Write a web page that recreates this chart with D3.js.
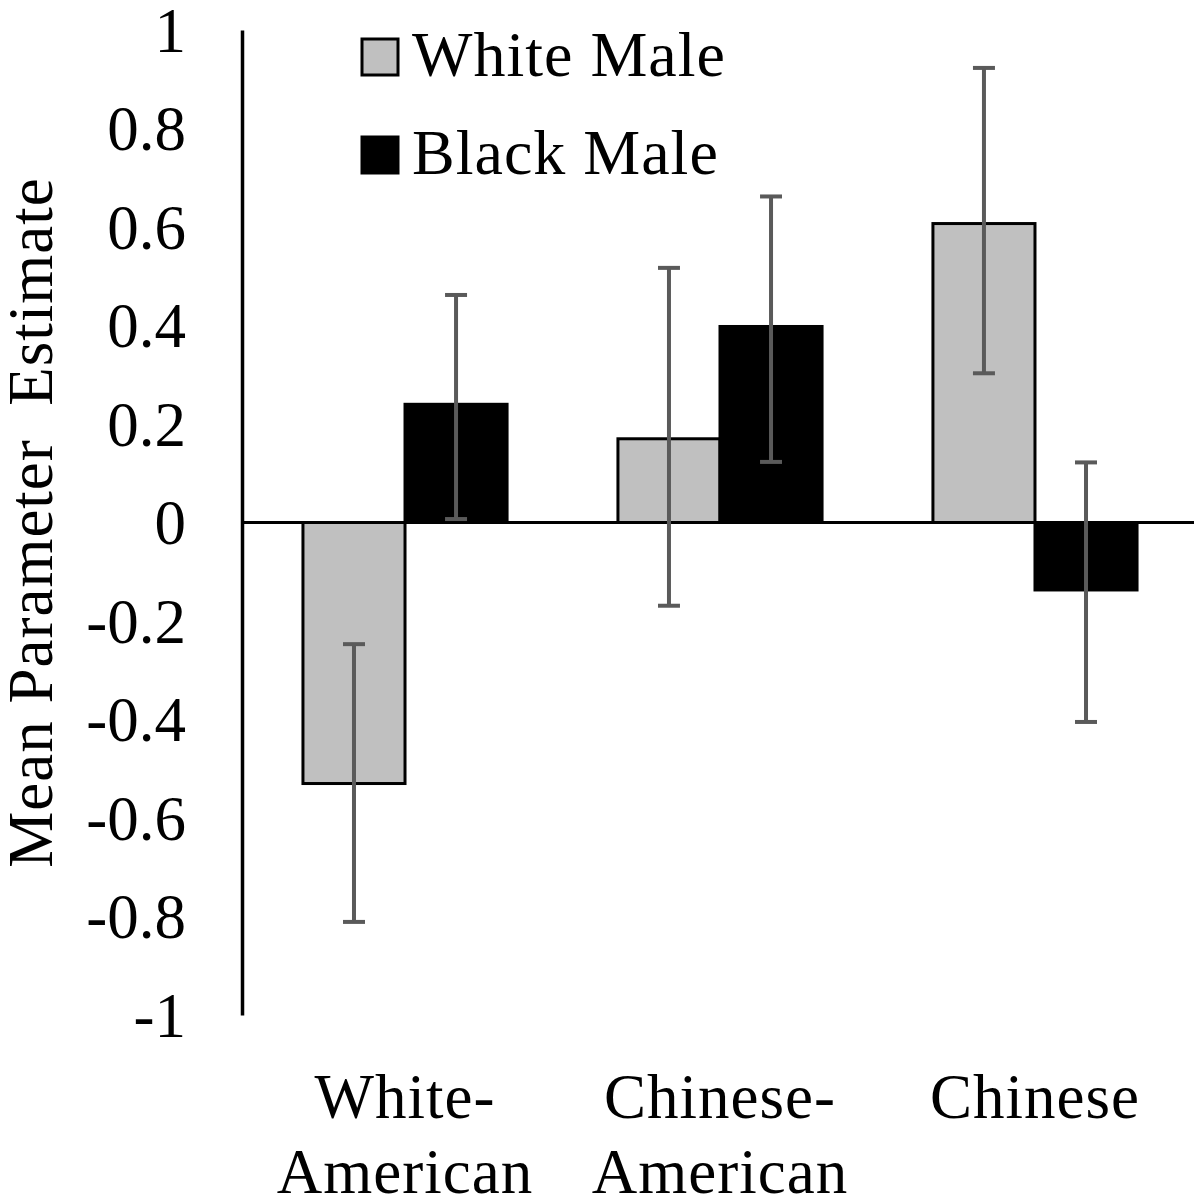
<!DOCTYPE html>
<html>
<head>
<meta charset="utf-8">
<script src="https://cdn.jsdelivr.net/npm/d3@7"></script>
<style>
  body { margin: 0; background: #fff; }
  text { font-family: "Liberation Serif", "Times New Roman", serif; fill: #000; }
</style>
</head>
<body>
<div id="chart"></div>
<script>
// values
const categories = [["White-", "American"], ["Chinese-", "American"], ["Chinese"]];
const series = ["White Male", "Black Male"];
const whiteMale = [-0.530, 0.170, 0.607];
const blackMale = [0.240, 0.398, -0.137];
const whiteLow = [-0.811, -0.169, 0.303];
const whiteHigh = [-0.247, 0.517, 0.923];
const blackLow = [0.007, 0.123, -0.405];
const blackHigh = [0.462, 0.662, 0.122];
const yTicks = [1, 0.8, 0.6, 0.4, 0.2, 0, -0.2, -0.4, -0.6, -0.8, -1];

const W = 1202, H = 1202;
const plot = { left: 242, right: 1194, top: 30, bottom: 1015 };
const colors = { "White Male": "#c0c0c0", "Black Male": "#000000" };

const rows = [];
categories.forEach((c, i) => {
    rows.push({ cat: i, s: series[0], v: whiteMale[i], lo: whiteLow[i], hi: whiteHigh[i] });
    rows.push({ cat: i, s: series[1], v: blackMale[i], lo: blackLow[i], hi: blackHigh[i] });
});

const svg = d3.select('#chart')
    .append('svg')
    .attr('width', W)
    .attr('height', H);

const y = d3.scaleLinear()
    .domain([-1, 1])
    .range([plot.bottom, plot.top]);

const x0 = d3.scaleBand()
    .domain(d3.range(categories.length))
    .range([245, 1195])
    .paddingInner(0.352)
    .paddingOuter(0.184);

const x1 = d3.scaleBand()
    .domain(series)
    .range([0, x0.bandwidth()]);

// y axis: line + labels, no ticks
const yAxis = svg.append('g')
    .attr('transform', `translate(${plot.left},0)`)
    .call(d3.axisLeft(y).tickValues(yTicks).tickSize(0).tickPadding(56)
        .tickFormat(d => d === 0 ? '0' : String(d).replace('−', '-')));
yAxis.select('.domain').attr('stroke', '#000').attr('stroke-width', 3.5);
yAxis.selectAll('.tick text')
    .attr('font-size', 63)
    .attr('font-family', '"Liberation Serif", serif')
    .attr('fill', '#000')
    .attr('dy', '0.34em');

// bars
svg.append('g')
    .selectAll('rect')
    .data(rows)
    .join('rect')
    .attr('x', d => x0(d.cat) + x1(d.s))
    .attr('width', x1.bandwidth())
    .attr('y', d => y(Math.max(0, d.v)))
    .attr('height', d => Math.abs(y(d.v) - y(0)))
    .attr('fill', d => colors[d.s])
    .attr('stroke', '#000')
    .attr('stroke-width', 3);

// zero line
svg.append('line')
    .attr('x1', plot.left)
    .attr('x2', plot.right)
    .attr('y1', y(0))
    .attr('y2', y(0))
    .attr('stroke', '#000')
    .attr('stroke-width', 3);

// error bars
const err = svg.append('g')
    .attr('stroke', '#5a5a5a')
    .attr('stroke-width', 4)
    .selectAll('g')
    .data(rows)
    .join('g')
    .attr('transform', d => `translate(${x0(d.cat) + x1(d.s) + x1.bandwidth() / 2},0)`);
err.append('line')
    .attr('y1', d => y(d.lo))
    .attr('y2', d => y(d.hi));
err.append('line')
    .attr('x1', -11).attr('x2', 11)
    .attr('y1', d => y(d.lo)).attr('y2', d => y(d.lo));
err.append('line')
    .attr('x1', -11).attr('x2', 11)
    .attr('y1', d => y(d.hi)).attr('y2', d => y(d.hi));

// category labels
svg.append('g')
    .selectAll('text')
    .data(categories)
    .join('text')
    .attr('text-anchor', 'middle')
    .attr('font-size', 63)
    .attr('letter-spacing', 1)
    .each(function (lines, i) {
        const cx = x0(i) + x0.bandwidth() / 2;
        d3.select(this).selectAll('tspan')
            .data(lines)
            .join('tspan')
            .attr('x', cx)
            .attr('y', (l, j) => 1118 + j * 75)
            .text(l => l);
    });

// y title
svg.append('text')
    .attr('transform', `translate(52,${y(0)}) rotate(-90)`)
    .attr('text-anchor', 'middle')
    .attr('font-size', 63)
    .attr('letter-spacing', 1)
    .attr('xml:space', 'preserve')
    .style('white-space', 'pre')
    .text('Mean Parameter  Estimate');

// legend
const legend = svg.append('g')
    .selectAll('g')
    .data(series)
    .join('g')
    .attr('transform', (d, i) => `translate(362,${39 + i * 98})`);
legend.append('rect')
    .attr('width', 36)
    .attr('height', 36)
    .attr('fill', d => colors[d])
    .attr('stroke', '#000')
    .attr('stroke-width', 3);
legend.append('text')
    .attr('x', 50)
    .attr('y', 37)
    .attr('font-size', 64)
    .attr('letter-spacing', 1)
    .text(d => d);
</script>
</body>
</html>
